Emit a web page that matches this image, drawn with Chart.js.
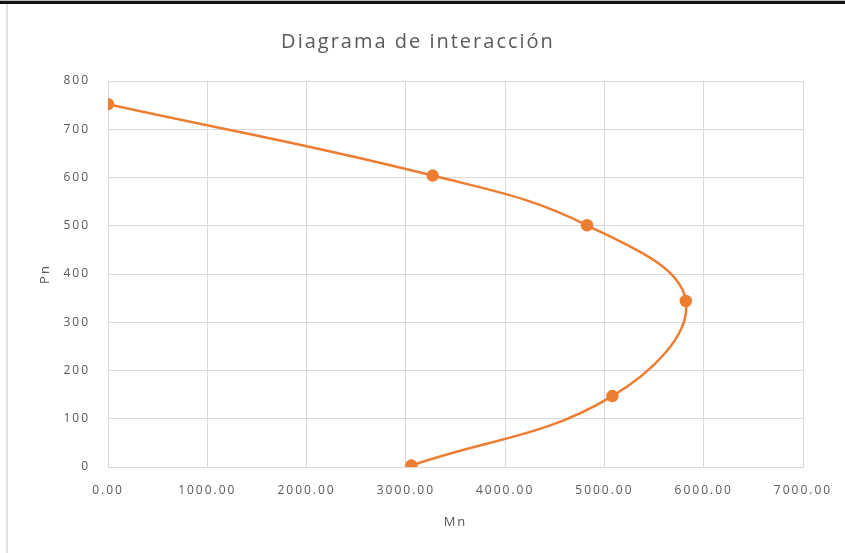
<!DOCTYPE html>
<html>
<head>
<meta charset="utf-8">
<script src="https://cdn.jsdelivr.net/npm/chart.js@4/dist/chart.umd.min.js"></script>
<style>
    html, body { margin: 0; padding: 0; background: #fff; }
    #wrap { position: relative; width: 845px; height: 553px; overflow: hidden; }
    /* spreadsheet cell borders around the chart */
    #topline { position: absolute; left: 0; top: 0; width: 845px; height: 1px; background: #bbb; }
    #topbar { position: absolute; left: 0; top: 1px; width: 845px; height: 3px; background: #111; }
    #leftline { position: absolute; left: 6px; top: 4px; width: 2px; height: 549px; background: #e3e3e3; }
    canvas { position: absolute; left: 0; top: 0; }
</style>
</head>
<body>
<div id="wrap">
    <canvas id="chart" width="845" height="553"></canvas>
    <div id="topline"></div>
    <div id="topbar"></div>
    <div id="leftline"></div>
</div>
<script>
// Interaction diagram points (Mn, Pn)
const mnValues = [0, 3270, 4825, 5820, 5080, 3055];
const pnValues = [752, 604, 501, 344, 147, 3];
const xTicks = [0, 1000, 2000, 3000, 4000, 5000, 6000, 7000];
const yTicks = [0, 100, 200, 300, 400, 500, 600, 700, 800];

const orange = '#ED7D31';
const gridColor = '#d9d9d9';
const textColor = '#595959';

// Excel-ish wide letter spacing for all chart text
// (canvas resize wipes ctx state, so set it again before layout and draw)
const spacingPlugin = {
    id: 'letterSpacing',
    beforeUpdate(chart) {
        chart.ctx.letterSpacing = '2px';
    },
    beforeDraw(chart) {
        chart.ctx.letterSpacing = '2px';
    }
};

function createInteractionChart() {
    const ctx = document.getElementById('chart').getContext('2d');
    const points = mnValues.map((mn, i) => ({ x: mn, y: pnValues[i] }));

    new Chart(ctx, {
        type: 'scatter',
        data: {
            datasets: [{
                label: 'Pn',
                data: points,
                showLine: true,
                borderColor: orange,
                backgroundColor: orange,
                borderWidth: 2.5,
                pointRadius: 5,
                pointHoverRadius: 5,
                tension: 0.4
            }]
        },
        options: {
            responsive: false,
            animation: false,
            layout: {
                padding: { left: 33, right: 42, top: 20, bottom: 14 }
            },
            plugins: {
                legend: { display: false },
                tooltip: { enabled: false },
                title: {
                    display: true,
                    text: 'Diagrama de interacción',
                    color: textColor,
                    font: { family: 'Open Sans', size: 20, weight: 'normal' },
                    padding: { top: 10, bottom: 27 }
                }
            },
            scales: {
                x: {
                    type: 'linear',
                    min: 0,
                    max: 7000,
                    afterBuildTicks: function(axis) {
                        axis.ticks = xTicks.map(v => ({ value: v }));
                    },
                    afterFit: function(axis) {
                        axis.height = 72;
                        axis.paddingLeft = 0;
                        axis.paddingRight = 0;
                    },
                    grid: { color: gridColor, lineWidth: 1, drawTicks: false },
                    border: { color: gridColor },
                    ticks: {
                        color: textColor,
                        padding: 16,
                        font: { family: 'Open Sans', size: 12 },
                        maxRotation: 0,
                        callback: function(value) {
                            return value.toFixed(2);
                        }
                    },
                    title: {
                        display: true,
                        text: 'Mn',
                        color: textColor,
                        font: { family: 'Open Sans', size: 13 },
                        padding: { top: 4, bottom: 9 }
                    }
                },
                y: {
                    type: 'linear',
                    min: 0,
                    max: 800,
                    afterBuildTicks: function(axis) {
                        axis.ticks = yTicks.map(v => ({ value: v }));
                    },
                    afterFit: function(axis) {
                        axis.width = 75;
                    },
                    grid: { color: gridColor, lineWidth: 1, drawTicks: false },
                    border: { color: gridColor },
                    ticks: {
                        color: textColor,
                        padding: 18,
                        font: { family: 'Open Sans', size: 12 }
                    },
                    title: {
                        display: true,
                        text: 'Pn',
                        color: textColor,
                        font: { family: 'Open Sans', size: 13 },
                        padding: { top: 4, bottom: 4 }
                    }
                }
            }
        },
        plugins: [spacingPlugin]
    });
}

createInteractionChart();
</script>
</body>
</html>
